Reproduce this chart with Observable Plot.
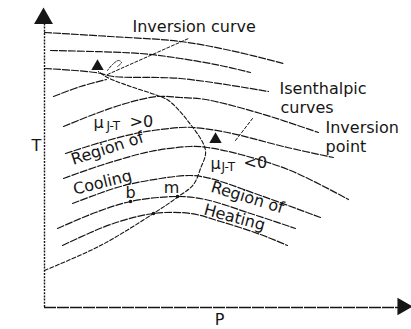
<!DOCTYPE html>
<html>
<head>
<meta charset="utf-8">
<script src="https://cdn.jsdelivr.net/npm/d3@7"></script>
<script src="https://cdn.jsdelivr.net/npm/@observablehq/plot@0.6"></script>
<style>
  html, body { margin: 0; padding: 0; background: #fff; }
</style>
</head>
<body>
<div id="chart"></div>
<script>
// Joule-Thomson expansion: isenthalpic curves in the P-T plane (arbitrary units, [P, T])
const isenthalp1 = [[0,275],[66,271],[136,266],[186,257],[239,244]];
const isenthalp2 = [[6,257],[96,254],[136,249],[176,242],[206,235]];
const isenthalp3 = [[0,239],[51,235],[69,231],[136,229],[224,216]];
const isenthalp4 = [[9,211],[36,221],[62,228]];
const isenthalp5 = [[19,181],[49,193],[81,204],[113,211],[136,210],[161,208],[216,194],[274,175]];
const isenthalp6 = [[21,154],[56,165],[96,175],[136,180],[149,180],[183,175],[243,160],[289,150]];
const isenthalp7 = [[19,129],[56,142],[106,156],[146,161],[163,160],[196,153],[246,137],[304,108]];
const isenthalp8 = [[28,104],[76,121],[116,129],[146,132],[166,129],[216,112],[276,90]];
const isenthalp9 = [[13,79],[51,95],[86,106],[133,111],[161,108],[206,94],[251,79]];
const isenthalp10 = [[18,62],[66,83],[109,94],[146,94],[176,86],[216,73],[243,62]];

// Locus of the maxima of the isenthalps
const inversionCurve = [[0,37],[56,62],[109,94],[134,111],[149,123],[156,139],[161,157],[143,187],[124,207],[113,212],[86,221],[63,230],[54,236]];

// Leader lines for the labels
const curveLeader = [[63,233],[144,269]];
const topPointer = [[63,237],[68,243],[74,247],[77,245],[73,241]];
const pointLeader = [[191,167],[208,189]];

// Inversion points and the marked states b and m
const inversionPoints = [[53,241],[171,168]];
const statePoints = [[86,106],[133,111],[109,94]];

const startLabels = [
  {text: "Inversion curve", P: 88, T: 281},
  {text: "Isenthalpic", P: 235, T: 219},
  {text: "curves", P: 236, T: 200},
  {text: "Inversion", P: 281, T: 180},
  {text: "point", P: 281, T: 161},
  {text: "μ", P: 49, T: 185},
  {text: ">0", P: 85, T: 186},
  {text: "μ", P: 166, T: 144},
  {text: "<0", P: 199, T: 145}
];
const subLabels = [
  {text: "J-T", P: 62, T: 181},
  {text: "J-T", P: 177, T: 140}
];
const centerLabels = [
  {text: "T", P: -8, T: 162, angle: 0},
  {text: "P", P: 175, T: -12, angle: 0},
  {text: "b", P: 86, T: 115, angle: 0},
  {text: "m", P: 127, T: 120, angle: 0},
  {text: "Region of", P: 63, T: 159, angle: -18},
  {text: "Cooling", P: 58, T: 125, angle: -14},
  {text: "Region of", P: 203, T: 110, angle: 17},
  {text: "Heating", P: 190, T: 90, angle: 15}
];

const isenthalps = [isenthalp1, isenthalp2, isenthalp3, isenthalp4, isenthalp5,
  isenthalp6, isenthalp7, isenthalp8, isenthalp9, isenthalp10];
const curveRows = isenthalps.flatMap((pts, i) => pts.map(([P, T]) => ({id: i, P, T})));
const toRows = pts => pts.map(([P, T]) => ({P, T}));

const ink = "#161616";
const chart = Plot.plot({
  width: 411,
  height: 329,
  marginLeft: 44,
  marginRight: 7,
  marginTop: 7,
  marginBottom: 22,
  x: {domain: [0, 360], axis: null},
  y: {domain: [0, 300], axis: null},
  style: {fontFamily: "DejaVu Sans", background: "#fff", color: ink},
  marks: [
    // axes
    Plot.ruleX([0], {y1: 0, y2: 286, stroke: ink, strokeWidth: 1.4, strokeDasharray: "2,1.2"}),
    Plot.ruleY([0], {x1: 0, x2: 356, stroke: ink, strokeWidth: 1.5, strokeDasharray: "12,1"}),
    Plot.dot([{P: -1, T: 289}], {x: "P", y: "T", symbol: "triangle", r: 7, fill: ink, stroke: null}),
    Plot.dot([{P: 358, T: 1}], {x: "P", y: "T", symbol: "triangle", r: 6.5, rotate: 90, fill: ink, stroke: null}),
    // isenthalps
    Plot.line(curveRows, {x: "P", y: "T", z: "id", curve: "catmull-rom", stroke: ink, strokeWidth: 1.2, strokeDasharray: "7,2"}),
    // inversion curve
    Plot.line(toRows(inversionCurve), {x: "P", y: "T", curve: "catmull-rom", stroke: ink, strokeWidth: 1.1, strokeDasharray: "4,2"}),
    // leaders
    Plot.line(toRows(curveLeader), {x: "P", y: "T", stroke: ink, strokeWidth: 1, strokeDasharray: "3,2"}),
    Plot.line(toRows(topPointer), {x: "P", y: "T", curve: "catmull-rom", stroke: ink, strokeWidth: 1, strokeDasharray: "2,1.5"}),
    Plot.line(toRows(pointLeader), {x: "P", y: "T", stroke: ink, strokeWidth: 1, strokeDasharray: "3,2"}),
    // points
    Plot.dot(toRows(inversionPoints), {x: "P", y: "T", symbol: "triangle", r: 4.6, fill: ink, stroke: null}),
    Plot.dot(toRows(statePoints), {x: "P", y: "T", r: 1.8, fill: ink, stroke: null}),
    // labels
    Plot.text(startLabels, {x: "P", y: "T", text: "text", textAnchor: "start", fontSize: 16, fill: ink}),
    Plot.text(subLabels, {x: "P", y: "T", text: "text", textAnchor: "start", fontSize: 12, fill: ink}),
    Plot.text(centerLabels, {x: "P", y: "T", text: "text", rotate: "angle", textAnchor: "middle", fontSize: 16, fill: ink})
  ]
});
document.getElementById("chart").appendChild(chart);
</script>
</body>
</html>
